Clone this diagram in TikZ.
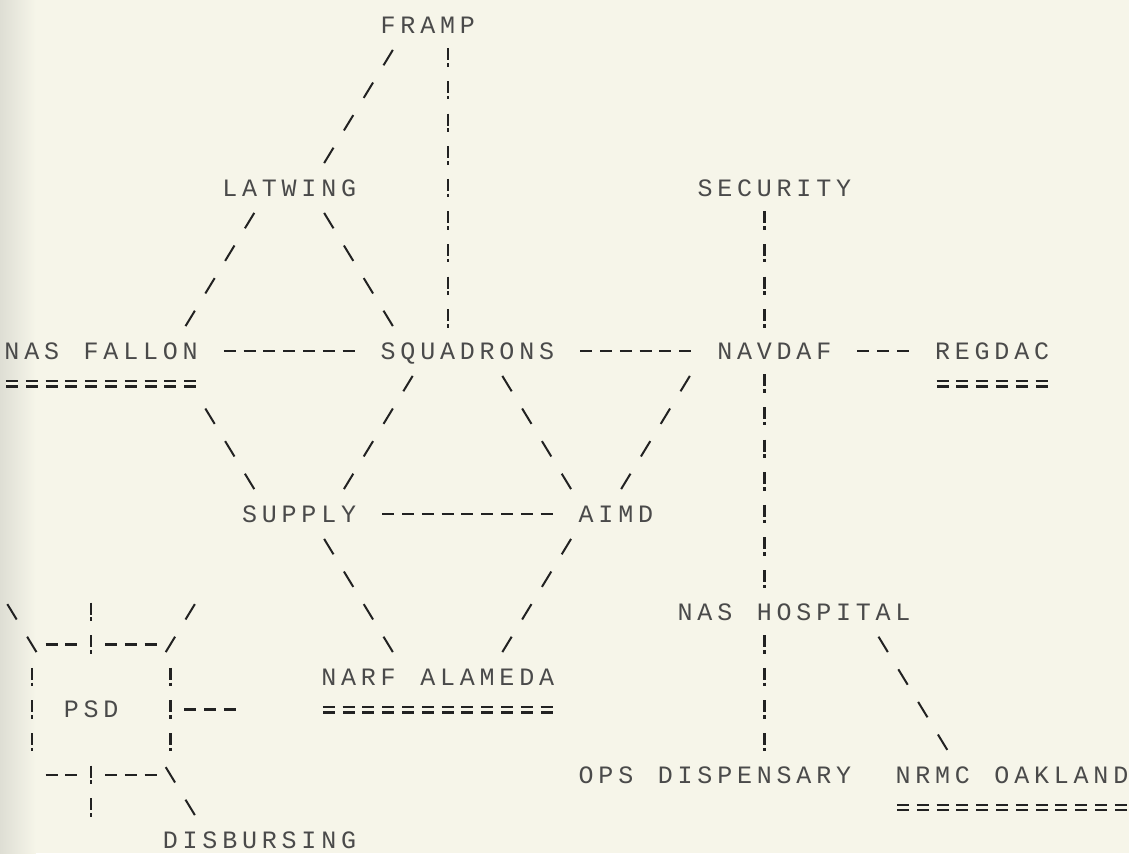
\documentclass[tikz,border=0pt]{standalone}
\usepackage{fontspec}
\newfontfamily\prfont{Liberation Mono}
\definecolor{paper}{HTML}{F6F5E9}
\definecolor{paperedge}{HTML}{DEDED4}
\definecolor{ink}{HTML}{4A4A4A}
\definecolor{ribbon}{HTML}{222222}
\newlength\cw
\setlength\cw{9.9pt}
% one printer cell per character
\newcommand{\pr}[1]{\prloop#1\relax}
\def\prloop#1{\ifx\relax#1\else\makebox[\cw][c]{#1}\expandafter\prloop\fi}

\begin{document}
\begin{tikzpicture}[
  x=9.9pt, y=-16.3pt,
  lbl/.style={font={\prfont\fontsize{12.5pt}{14pt}\selectfont}, text=ink, inner sep=0pt, text height=8.2pt, text depth=0pt},
  dsh/.style={ribbon, line width=1.3pt, dash pattern=on 6pt off 3.9pt, shorten <=-3pt, shorten >=-3pt},
  dbl/.style={ribbon, line width=1.1pt, double=paper, double distance=1.7pt, dash pattern=on 6pt off 3.9pt, shorten <=-3pt, shorten >=-3pt},
  excl/.style={ribbon, line width=1.1pt, dash pattern=on 6pt off 1.4pt on 1.8pt off 7.1pt, shorten <=-4.6pt, shorten >=-4.6pt},
  fsl/.style={ribbon, line width=1pt, dash pattern=on 9pt off 10.07pt, shorten <=-4.5pt, shorten >=-4.5pt}
]
\fill[paper] (-0.606,-0.767) rectangle (56.414,25.399);
\shade[left color=paperedge, right color=paper] (-0.606,-0.767) rectangle (1.2,25.399);
\useasboundingbox (-0.606,-0.767) rectangle (56.414,25.399);

% offices
\node[lbl] (framp) at (21,0) {\pr{FRAMP}};
\node[lbl] (latwing) at (14,5) {\pr{LATWING}};
\node[lbl] (security) at (38.5,5) {\pr{SECURITY}};
\node[lbl] (nasfallon) at (4.5,10) {\pr{NAS~FALLON}};
\node[lbl] (squadrons) at (23,10) {\pr{SQUADRONS}};
\node[lbl] (navdaf) at (38.5,10) {\pr{NAVDAF}};
\node[lbl] (regdac) at (49.5,10) {\pr{REGDAC}};
\node[lbl] (supply) at (14.5,15) {\pr{SUPPLY}};
\node[lbl] (aimd) at (30.5,15) {\pr{AIMD}};
\node[lbl] (nashosp) at (39.5,18) {\pr{NAS~HOSPITAL}};
\node[lbl] (narf) at (21.5,20) {\pr{NARF~ALAMEDA}};
\node[lbl] (psd) at (4,21) {\pr{PSD}};
\node[lbl] (opsdisp) at (35.5,23) {\pr{OPS~DISPENSARY}};
\node[lbl] (nrmc) at (50.5,23) {\pr{NRMC~OAKLAND}};
\node[lbl] (disb) at (12.5,25) {\pr{DISBURSING}};

% loose ends round PSD
\coordinate (psdnw) at (0,18);
\coordinate (psdn) at (4,18);
\coordinate (psdne) at (9,18);
\coordinate (psde) at (11,21);
\coordinate (psds) at (4,24);

% underlines
\draw[dbl] ([shift={(-4.5,1)}]nasfallon.center) -- ([shift={(4.5,1)}]nasfallon.center);
\draw[dbl] ([shift={(-2.5,1)}]regdac.center) -- ([shift={(2.5,1)}]regdac.center);
\draw[dbl] ([shift={(-5.5,1)}]narf.center) -- ([shift={(5.5,1)}]narf.center);
\draw[dbl] ([shift={(-5.5,1)}]nrmc.center) -- ([shift={(5.5,1)}]nrmc.center);

% links
\draw[fsl] ([shift={(-2,1)}]framp.center) -- ([shift={(2,-1)}]latwing.center);
\draw[excl] ([shift={(1,1)}]framp.center) -- ([shift={(-1,-1)}]squadrons.center);
\draw[fsl] ([shift={(-2,1)}]latwing.center) -- ([shift={(4.5,-1)}]nasfallon.center);
\draw[fsl] ([shift={(2,1)}]latwing.center) -- ([shift={(-4,-1)}]squadrons.center);
\draw[excl] ([shift={(-0.5,1)}]security.center) -- ([shift={(-0.5,-1)}]navdaf.center);
\draw[dsh] ([shift={(6.5,0)}]nasfallon.center) -- ([shift={(-6,0)}]squadrons.center);
\draw[dsh] ([shift={(6,0)}]squadrons.center) -- ([shift={(-4.5,0)}]navdaf.center);
\draw[dsh] ([shift={(4.5,0)}]navdaf.center) -- ([shift={(-4.5,0)}]regdac.center);
\draw[fsl] ([shift={(5.5,2)}]nasfallon.center) -- ([shift={(-2.5,-1)}]supply.center);
\draw[fsl] ([shift={(-3,1)}]squadrons.center) -- ([shift={(2.5,-1)}]supply.center);
\draw[fsl] ([shift={(2,1)}]squadrons.center) -- ([shift={(-2.5,-1)}]aimd.center);
\draw[fsl] ([shift={(-4.5,1)}]navdaf.center) -- ([shift={(0.5,-1)}]aimd.center);
\draw[excl] ([shift={(-0.5,1)}]navdaf.center) -- ([shift={(-1.5,-1)}]nashosp.center);
\draw[dsh] ([shift={(4.5,0)}]supply.center) -- ([shift={(-3.5,0)}]aimd.center);
\draw[fsl] ([shift={(1.5,1)}]supply.center) -- ([shift={(-2.5,-1)}]narf.center);
\draw[fsl] ([shift={(-2.5,1)}]aimd.center) -- ([shift={(3.5,-1)}]narf.center);
\draw[excl] ([shift={(-1.5,1)}]nashosp.center) -- ([shift={(2.5,-1)}]opsdisp.center);
\draw[fsl] ([shift={(4.5,1)}]nashosp.center) -- ([shift={(-3.5,-1)}]nrmc.center);

% PSD box, typed
\draw[dsh] ([shift={(-2,-2)}]psd.center) -- ([shift={(-1,-2)}]psd.center);
\draw[dsh] ([shift={(1,-2)}]psd.center) -- ([shift={(3,-2)}]psd.center);
\draw[dsh] ([shift={(-2,2)}]psd.center) -- ([shift={(-1,2)}]psd.center);
\draw[dsh] ([shift={(1,2)}]psd.center) -- ([shift={(3,2)}]psd.center);
\draw[excl] ([shift={(-3,-1)}]psd.center) -- ([shift={(-3,1)}]psd.center);
\draw[excl] ([shift={(4,-1)}]psd.center) -- ([shift={(4,1)}]psd.center);
\draw[fsl] (psdnw) -- ([shift={(-3,-2)}]psd.center);
\draw[excl] (psdn) -- ([shift={(0,-2)}]psd.center);
\draw[fsl] (psdne) -- ([shift={(4,-2)}]psd.center);
\draw[dsh] ([shift={(5,0)}]psd.center) -- (psde);
\draw[excl] ([shift={(0,2)}]psd.center) -- (psds);
\draw[fsl] ([shift={(4,2)}]psd.center) -- ([shift={(-3.5,-1)}]disb.center);
\end{tikzpicture}
\end{document}
